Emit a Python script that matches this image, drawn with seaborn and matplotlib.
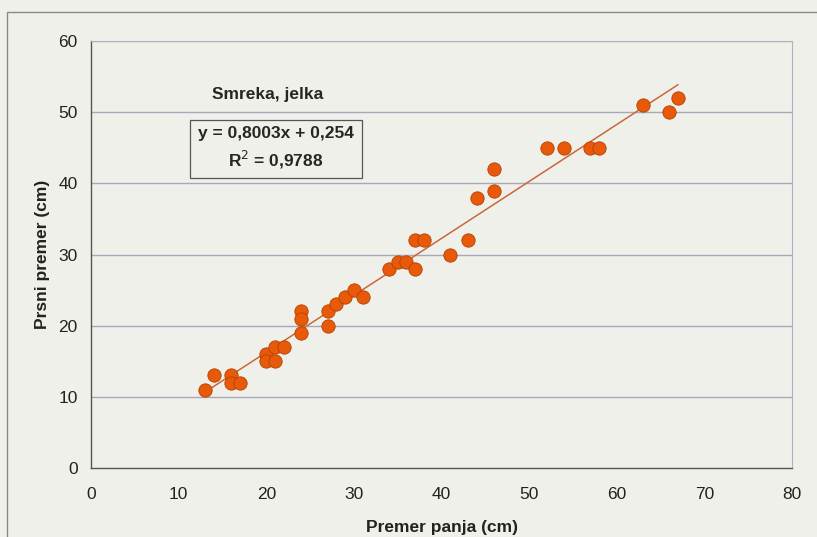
import numpy as np
import pandas as pd
import matplotlib.pyplot as plt
import matplotlib.patches as mpatches
import seaborn as sns

# Podatki: premer panja in prsni premer (cm)
premer_panja = [13, 14, 16, 16, 17, 20, 20, 21, 21, 22, 24, 24, 24, 27, 27, 28, 29, 30, 31,
                34, 35, 36, 37, 37, 38, 41, 43, 44, 46, 46, 52, 54, 57, 58, 63, 66, 67]
prsni_premer = [11, 13, 13, 12, 12, 16, 15, 17, 15, 17, 22, 21, 19, 22, 20, 23, 24, 25, 24,
                28, 29, 29, 32, 28, 32, 30, 32, 38, 42, 39, 45, 45, 45, 45, 51, 50, 52]

# trend linija (iz Excela)
naklon = 0.8003
presecisce = 0.254

x_ticks = [0, 10, 20, 30, 40, 50, 60, 70, 80]
y_ticks = [0, 10, 20, 30, 40, 50, 60]

df = pd.DataFrame({'panj': premer_panja, 'prsni': prsni_premer})
x_line = np.array([min(premer_panja), max(premer_panja)])
df_line = pd.DataFrame({'x': x_line, 'y': naklon * x_line + presecisce})

bg = '#f0f0eb'
sns.set_style('white')
plt.rcParams['font.family'] = ['Liberation Sans', 'DejaVu Sans']

fig = plt.figure(figsize=(8.17, 5.37), dpi=100, facecolor=bg)
ax = fig.add_axes([0.1114, 0.1285, 0.858, 0.795])
ax.set_facecolor(bg)

for yv in y_ticks[1:]:
    ax.axhline(yv, color='#a8a8b8', lw=1.0, zorder=0)

sns.lineplot(data=df_line, x='x', y='y', ax=ax, color='#c8683a', lw=1.1, zorder=2)
sns.scatterplot(data=df, x='panj', y='prsni', ax=ax, s=92, color='#e85a0a',
                edgecolor='#b04000', linewidth=0.6, zorder=3)

ax.set_xlim(0, 80)
ax.set_ylim(0, 60)
ax.set_xticks(x_ticks)
ax.set_yticks(y_ticks)
ax.tick_params(axis='both', direction='out', length=4.5, width=0.8, color='#666666',
               labelsize=12.5, labelcolor='#222222')
ax.tick_params(axis='y', pad=5)
ax.tick_params(axis='x', pad=9)

for side in ['left', 'bottom']:
    ax.spines[side].set_color('#555555')
    ax.spines[side].set_linewidth(1.0)
for side in ['top', 'right']:
    ax.spines[side].set_color('#b0b0c0')
    ax.spines[side].set_linewidth(0.8)

ax.set_xlabel('Premer panja (cm)', fontsize=12.5, fontweight='bold', labelpad=13, color='#222222')
ax.set_ylabel('Prsni premer (cm)', fontsize=12.5, fontweight='bold', labelpad=6, color='#222222')

ax.text(20.2, 52.5, 'Smreka, jelka', fontsize=12.5, fontweight='bold', ha='center', va='center')
ax.text(21.1, 44.9, 'y = 0,8003x + 0,254\nR$^2$ = 0,9788', fontsize=12.5, fontweight='bold',
        ha='center', va='center', linespacing=1.4,
        bbox=dict(boxstyle='square,pad=0.45', fc=bg, ec='#555555', lw=0.9))

# okvir okoli grafa
okvir = mpatches.Rectangle((0.0086, -0.1), 1.2, 0.1 + 0.9777, transform=fig.transFigure,
                           fill=False, ec='#888888', lw=1.0, clip_on=False)
fig.patches.append(okvir)

fig.savefig('out.png', dpi=100, facecolor=bg)
